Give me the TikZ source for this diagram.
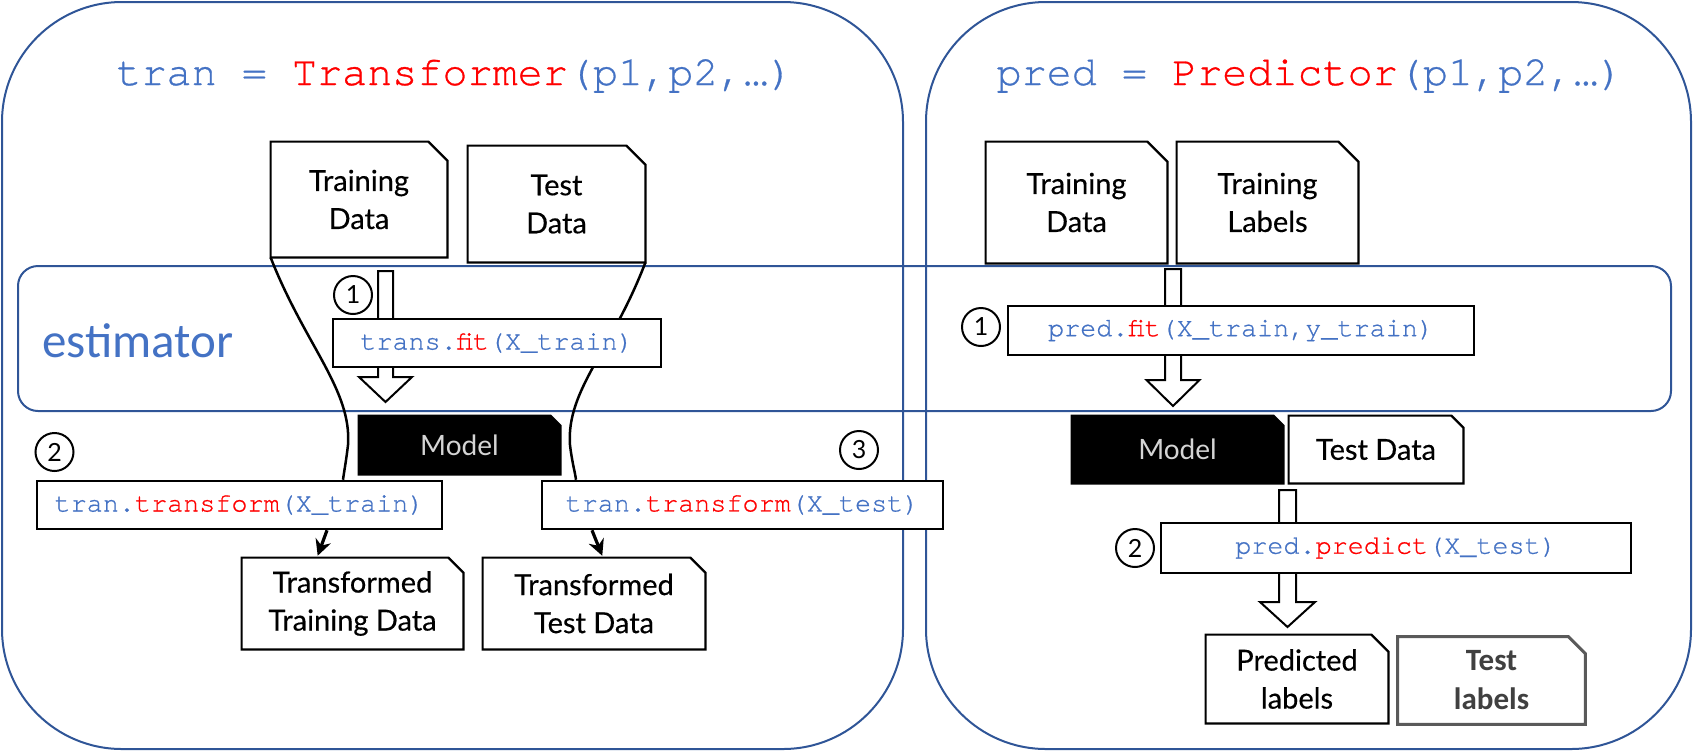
\documentclass[tikz,border=0pt]{standalone}
\usepackage{fontspec}
\setmainfont{Lato}
\newfontfamily\docfont[FakeBold=0.35]{Lato}
\newfontfamily\codefont[FakeBold=0.7]{texgyrecursor-regular.otf}
\newfontfamily\calfont{Carlito}
\usetikzlibrary{arrows.meta}
\pgfdeclarelayer{back}
\pgfdeclarelayer{shapes}
\pgfsetlayers{back,shapes,main}
\definecolor{cblue}{HTML}{4472C4}
\definecolor{cred}{HTML}{FF0000}
\definecolor{pblue}{HTML}{2F5597}
\definecolor{tgray}{HTML}{5A5A5A}
\definecolor{tlgray}{HTML}{404040}
\definecolor{mgray}{HTML}{D4D4D4}
\newcommand\mydoc[3][]{\draw[docline,#1] (#2.south west) -- (#2.north west) -- ([xshift=-#3]#2.north east) -- ([yshift=-#3]#2.north east) -- (#2.south east) -- cycle;}
\begin{document}
\begin{tikzpicture}[x=0.5pt,y=-0.5pt,
  panel/.style={draw=pblue, line width=1pt, rounded corners=60pt},
  band/.style={draw=pblue, line width=1pt, rounded corners=10pt},
  docline/.style={draw=black, line width=1.1pt, fill=white, line join=miter},
  doctext/.style={inner sep=0pt, align=center, font=\docfont\fontsize{14.5pt}{19pt}\selectfont},
  codebox/.style={draw=black, fill=white, line width=1.25pt, inner sep=0pt, font=\codefont\fontsize{13.4pt}{15pt}\selectfont},
  titletext/.style={inner sep=0pt, font=\codefont\fontsize{20.9pt}{24pt}\selectfont},
  numcirc/.style={circle, draw=black, line width=1pt, minimum size=19pt, inner sep=0pt, font=\fontsize{12.5pt}{14pt}\selectfont},
  hollow/.style={draw=black, fill=white, line width=1pt, line join=miter},
  funnel/.style={draw=black, line width=1.25pt},
  smallarrow/.style={draw=black, line width=1.6pt, -{Stealth[length=8pt,width=8pt]}, shorten >=1pt}
]
\useasboundingbox (0,0) rectangle (1693,752);
\begin{pgfonlayer}{back}
  \draw[panel] (2,2) rectangle (903,749);
  \draw[panel] (926,2) rectangle (1691,749);
  \draw[band] (18,266) rectangle (1671,411);
\end{pgfonlayer}

% titles and label
\node[titletext] (t1) at (455,76) {\textcolor{cblue}{tran = }\textcolor{cred}{Transformer}\textcolor{cblue}{(p1,p2,…)}};
\node[titletext] (t2) at (1310,76) {\textcolor{cblue}{pred = }\textcolor{cred}{Predictor}\textcolor{cblue}{(p1,p2,…)}};
\node[inner sep=0pt, font=\calfont\fontsize{24.5pt}{28pt}\selectfont, text=cblue] (est) at (138,341) {estimator};

% left documents
\node[doctext, minimum width=88pt, minimum height=57.5pt] (trd) at (359,199.5) {Training\\Data};
\node[doctext, minimum width=88.5pt, minimum height=58pt] (tsd) at (556.5,204) {Test\\Data};
\node[doctext, minimum width=100.5pt, minimum height=29pt, text=mgray, font=\fontsize{14pt}{17pt}\selectfont] (lmodel) at (459.5,445) {Model};
\node[doctext, minimum width=110.5pt, minimum height=45.5pt] (ttd) at (352.5,603.5) {Transformed\\Training Data};
\node[doctext, minimum width=111pt, minimum height=45.5pt] (tsd2) at (594,603.5) {Transformed\\Test Data};

% right documents
\node[doctext, minimum width=90.5pt, minimum height=60.5pt] (rtrd) at (1076.5,202.5) {Training\\Data};
\node[doctext, minimum width=90.5pt, minimum height=60.5pt] (rtrl) at (1267.5,202.5) {Training\\Labels};
\node[doctext, minimum width=105.5pt, minimum height=33.5pt, text=mgray, font=\fontsize{14pt}{17pt}\selectfont] (rmodel) at (1177.5,449.5) {Model};
\node[doctext, minimum width=87pt, minimum height=33.5pt] (rtsd) at (1376,449.5) {Test Data};
\node[doctext, minimum width=91pt, minimum height=44pt] (plab) at (1297,679) {Predicted\\labels};
\node[doctext, minimum width=93.5pt, minimum height=43.5pt, text=tlgray, font=\calfont\bfseries\fontsize{15.5pt}{19.5pt}\selectfont] (tlab) at (1491.5,680.5) {Test\\labels};

% code boxes
\node[codebox, minimum width=164pt, minimum height=24pt] (lfit) at (497,343) {\textcolor{cblue}{trans.}\textcolor{cred}{fit}\textcolor{cblue}{(X\_train)}};
\node[codebox, minimum width=202.5pt, minimum height=24pt] (ltr1) at (239.5,505) {\textcolor{cblue}{tran.}\textcolor{cred}{transform}\textcolor{cblue}{(X\_train)}};
\node[codebox, minimum width=200.5pt, minimum height=24pt] (ltr2) at (742.5,505) {\textcolor{cblue}{tran.}\textcolor{cred}{transform}\textcolor{cblue}{(X\_test)}};
\node[codebox, minimum width=233pt, minimum height=24.5pt] (rfit) at (1241,330.5) {\textcolor{cblue}{pred.}\textcolor{cred}{fit}\textcolor{cblue}{(X\_train,y\_train)}};
\node[codebox, minimum width=235pt, minimum height=25pt] (rpred) at (1396,548) {\textcolor{cblue}{pred.}\textcolor{cred}{predict}\textcolor{cblue}{(X\_test)}};

% step numbers
\node[numcirc] (n1l) at (353,295) {1};
\node[numcirc] (n2l) at (54.5,452) {2};
\node[numcirc] (n3l) at (859,450) {3};
\node[numcirc] (n1r) at (981,327) {1};
\node[numcirc] (n2r) at (1135,548) {2};

\begin{pgfonlayer}{shapes}
  % funnel lines
  \draw[funnel] (trd.south west) .. controls (305,345) and (352,390) .. (348,445) .. controls (346,462) and (344,472) .. ([xshift=51.75pt]ltr1.north);
  \draw[funnel] (tsd.south east) .. controls (612,350) and (566,390) .. (570,445) .. controls (572,462) and (575,472) .. ([xshift=-83.25pt]ltr2.north);
  % hollow arrows
  \draw[hollow] (378,271) -- (393,271) -- (393,377) -- (412,377) -- (385.5,402) -- (359,377) -- (378,377) -- cycle;
  \draw[hollow] (1165,269) -- (1181,269) -- (1181,380) -- (1199.5,380) -- (1173,406) -- (1146.5,380) -- (1165,380) -- cycle;
  \draw[hollow] (1279,490) -- (1296,490) -- (1296,602) -- (1315,602) -- (1287.5,627) -- (1260,602) -- (1279,602) -- cycle;
  % document shapes
  \mydoc{trd}{9.5pt}
  \mydoc{tsd}{9.5pt}
  \mydoc[fill=black]{lmodel}{5pt}
  \mydoc{ttd}{7.5pt}
  \mydoc{tsd2}{7.5pt}
  \mydoc{rtrd}{10pt}
  \mydoc{rtrl}{10pt}
  \mydoc[fill=black]{rmodel}{5pt}
  \mydoc{rtsd}{6pt}
  \mydoc{plab}{8.5pt}
  \mydoc[draw=tgray, line width=1.5pt]{tlab}{8.5pt}
\end{pgfonlayer}

% small arrows
\draw[smallarrow] ([xshift=43.75pt]ltr1.south) -- ([xshift=-17.75pt]ttd.north);
\draw[smallarrow] ([xshift=-75.25pt]ltr2.south) -- ([xshift=4.5pt]tsd2.north);
\end{tikzpicture}
\end{document}
